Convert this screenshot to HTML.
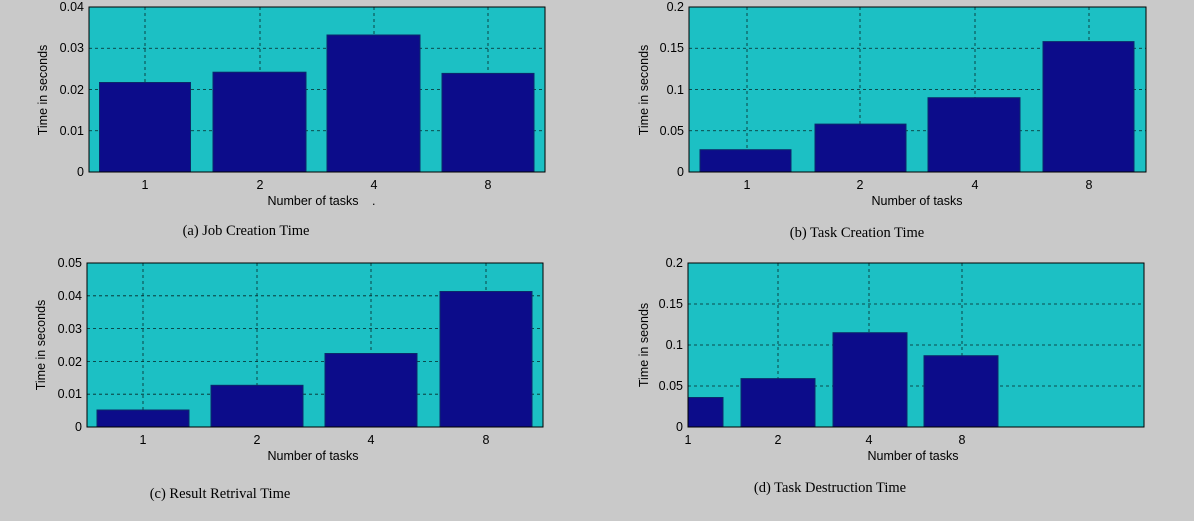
<!DOCTYPE html>
<html><head><meta charset="utf-8"><style>
html,body{margin:0;padding:0;background:#c9c9c9;}
svg{display:block}
.t{font-family:"Liberation Sans",sans-serif;font-size:12.5px;fill:#000}
.c{font-family:"Liberation Serif",serif;font-size:14.5px;fill:#000}
</style></head><body>
<svg width="1194" height="521" viewBox="0 0 1194 521" xmlns="http://www.w3.org/2000/svg">
<rect width="1194" height="521" fill="#c9c9c9"/>
<g id="a">
<rect x="89" y="7" width="456" height="165" fill="#1cc0c4"/>
<g stroke="#000" stroke-dasharray="3,3" stroke-width="0.8" opacity="0.8">
<line x1="89" x2="545" y1="48.25" y2="48.25"/><line x1="89" x2="545" y1="89.5" y2="89.5"/><line x1="89" x2="545" y1="130.75" y2="130.75"/>
<line x1="145" x2="145" y1="7" y2="172"/><line x1="260" x2="260" y1="7" y2="172"/><line x1="374" x2="374" y1="7" y2="172"/><line x1="488" x2="488" y1="7" y2="172"/>
</g>
<g fill="#0c0c8a" stroke="#0a2a6a">
<rect x="99.5" y="82.5" width="91" height="89.5"/><rect x="213" y="72.2" width="93" height="99.8"/><rect x="327" y="35" width="93" height="137"/><rect x="442" y="73.4" width="92" height="98.6"/>
</g>
<rect x="89" y="7" width="456" height="165" fill="none" stroke="#000"/>
<g class="t" text-anchor="end"><text x="84" y="11">0.04</text><text x="84" y="52">0.03</text><text x="84" y="94">0.02</text><text x="84" y="135">0.01</text><text x="84" y="176">0</text></g>
<g class="t" text-anchor="middle"><text x="145" y="189">1</text><text x="260" y="189">2</text><text x="374" y="189">4</text><text x="488" y="189">8</text><text x="313" y="205">Number of tasks</text></g>
<text class="t" transform="translate(47,90) rotate(-90)" text-anchor="middle">Time in seconds</text>
<text x="372" y="205" class="t">.</text>
<text class="c" x="246" y="235" text-anchor="middle">(a) Job Creation Time</text>
</g>
<g id="b">
<rect x="689" y="7" width="457" height="165" fill="#1cc0c4"/>
<g stroke="#000" stroke-dasharray="3,3" stroke-width="0.8" opacity="0.8">
<line x1="689" x2="1146" y1="48.25" y2="48.25"/><line x1="689" x2="1146" y1="89.5" y2="89.5"/><line x1="689" x2="1146" y1="130.75" y2="130.75"/>
<line x1="747" x2="747" y1="7" y2="172"/><line x1="860" x2="860" y1="7" y2="172"/><line x1="975" x2="975" y1="7" y2="172"/><line x1="1089" x2="1089" y1="7" y2="172"/>
</g>
<g fill="#0c0c8a" stroke="#0a2a6a">
<rect x="700" y="149.7" width="91" height="22.3"/><rect x="815" y="124.1" width="91" height="47.9"/><rect x="928" y="97.7" width="92" height="74.3"/><rect x="1043" y="41.6" width="91" height="130.4"/>
</g>
<rect x="689" y="7" width="457" height="165" fill="none" stroke="#000"/>
<g class="t" text-anchor="end"><text x="684" y="11">0.2</text><text x="684" y="52">0.15</text><text x="684" y="94">0.1</text><text x="684" y="135">0.05</text><text x="684" y="176">0</text></g>
<g class="t" text-anchor="middle"><text x="747" y="189">1</text><text x="860" y="189">2</text><text x="975" y="189">4</text><text x="1089" y="189">8</text><text x="917" y="205">Number of tasks</text></g>
<text class="t" transform="translate(648,90) rotate(-90)" text-anchor="middle">Time in seconds</text>
<text class="c" x="857" y="237" text-anchor="middle">(b) Task Creation Time</text>
</g>
<g id="c">
<rect x="87" y="263" width="456" height="164" fill="#1cc0c4"/>
<g stroke="#000" stroke-dasharray="3,3" stroke-width="0.8" opacity="0.8">
<line x1="87" x2="543" y1="295.8" y2="295.8"/><line x1="87" x2="543" y1="328.6" y2="328.6"/><line x1="87" x2="543" y1="361.4" y2="361.4"/><line x1="87" x2="543" y1="394.2" y2="394.2"/>
<line x1="143" x2="143" y1="263" y2="427"/><line x1="257" x2="257" y1="263" y2="427"/><line x1="371" x2="371" y1="263" y2="427"/><line x1="486" x2="486" y1="263" y2="427"/>
</g>
<g fill="#0c0c8a" stroke="#0a2a6a">
<rect x="97" y="410" width="92" height="17"/><rect x="211" y="385.3" width="92" height="41.7"/><rect x="325" y="353.5" width="92" height="73.5"/><rect x="440" y="291.5" width="92" height="135.5"/>
</g>
<rect x="87" y="263" width="456" height="164" fill="none" stroke="#000"/>
<g class="t" text-anchor="end"><text x="82" y="267">0.05</text><text x="82" y="300">0.04</text><text x="82" y="333">0.03</text><text x="82" y="366">0.02</text><text x="82" y="398">0.01</text><text x="82" y="431">0</text></g>
<g class="t" text-anchor="middle"><text x="143" y="444">1</text><text x="257" y="444">2</text><text x="371" y="444">4</text><text x="486" y="444">8</text><text x="313" y="460">Number of tasks</text></g>
<text class="t" transform="translate(45,345) rotate(-90)" text-anchor="middle">Time in seconds</text>
<text class="c" x="220" y="498" text-anchor="middle">(c) Result Retrival Time</text>
</g>
<g id="d">
<rect x="688" y="263" width="456" height="164" fill="#1cc0c4"/>
<g stroke="#000" stroke-dasharray="3,3" stroke-width="0.8" opacity="0.8">
<line x1="688" x2="1144" y1="304" y2="304"/><line x1="688" x2="1144" y1="345" y2="345"/><line x1="688" x2="1144" y1="386" y2="386"/>
<line x1="778" x2="778" y1="263" y2="427"/><line x1="869" x2="869" y1="263" y2="427"/><line x1="962" x2="962" y1="263" y2="427"/>
</g>
<g fill="#0c0c8a" stroke="#0a2a6a">
<rect x="688" y="397.5" width="35" height="29.5"/><rect x="741" y="378.6" width="74" height="48.4"/><rect x="833" y="332.7" width="74" height="94.3"/><rect x="924" y="355.7" width="74" height="71.3"/>
</g>
<rect x="688" y="263" width="456" height="164" fill="none" stroke="#000"/>
<g class="t" text-anchor="end"><text x="683" y="267">0.2</text><text x="683" y="308">0.15</text><text x="683" y="349">0.1</text><text x="683" y="390">0.05</text><text x="683" y="431">0</text></g>
<g class="t" text-anchor="middle"><text x="688" y="444">1</text><text x="778" y="444">2</text><text x="869" y="444">4</text><text x="962" y="444">8</text><text x="913" y="460">Number of tasks</text></g>
<text class="t" transform="translate(648,345) rotate(-90)" text-anchor="middle">Time in seonds</text>
<text class="c" x="830" y="492" text-anchor="middle">(d) Task Destruction Time</text>
</g>
</svg>
</body></html>
